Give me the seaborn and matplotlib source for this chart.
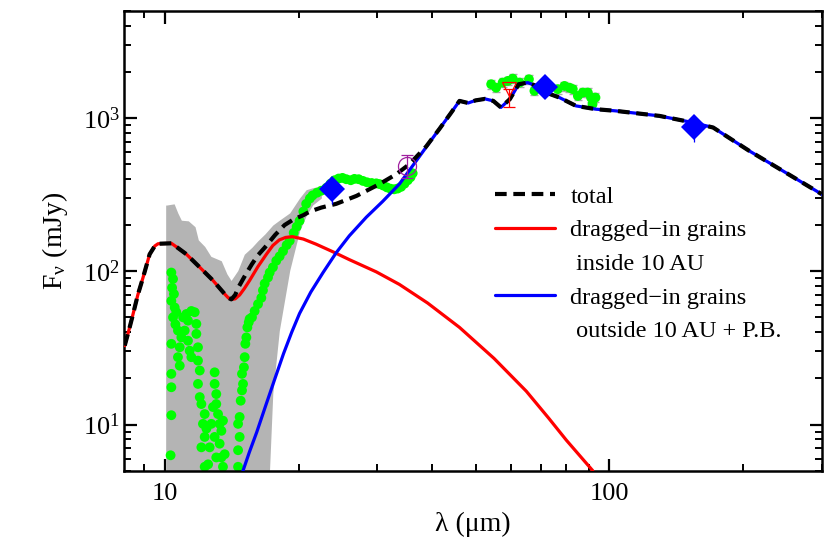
"""
SED of the debris disk: IRS spectrum, photometry and the dragged-in grain models
"""

import matplotlib
matplotlib.use("Agg")
import matplotlib.pyplot as plt
from matplotlib.lines import Line2D
from matplotlib.ticker import FixedLocator, FixedFormatter, LogLocator, LogFormatterMathtext, NullFormatter
import seaborn as sns

# ── Model curves (wavelength in um, flux in mJy) ───────────
red_wave = [8.13, 8.34, 8.49, 8.7, 8.94, 9.25, 9.5, 9.66, 10.35, 10.7, 11.19, 11.99, 12.84,
            13.64, 13.9, 14.12, 14.4, 14.74, 15.1, 15.52, 16.2, 16.93, 17.5, 18.1, 18.7,
            19.36, 20.5, 21.9, 24.0, 26.0, 29.9, 33.7, 39.0, 46.0, 55.0, 65.0, 73.0, 80.0,
            86.0, 91.7]
red_flux = [32.7, 43, 52.6, 70, 91, 129, 146, 151, 152, 142, 129, 106, 87,
            71, 67, 65.5, 66, 70, 77, 87, 107, 129, 147, 160, 166,
            168, 162, 150, 133, 119, 99, 82, 62, 43, 27, 16.5, 11, 7.9,
            6.2, 5.0]

blue_wave = [15.0, 15.5, 16.1, 16.9, 17.7, 18.5, 19.3, 20.1, 21.3, 22.7, 24.3, 26.0, 28.4,
             30.9, 33.7, 37.4, 39.7, 41.5, 44.0, 46.0, 48.1, 50.0, 52.5, 54.8, 57.0, 59.7,
             62.5, 65.5, 69.0, 72.5, 77.2, 84.1, 93.3, 103.5, 129.5, 154, 171, 206, 245, 300]
blue_flux = [5.0, 6.6, 8.9, 13.5, 20, 29, 40, 53, 73, 98, 132, 170, 225,
             285, 370, 561, 713, 851, 1075, 1290, 1250, 1300, 1330, 1290, 1170, 1324,
             1657, 1698, 1600, 1450, 1356, 1197, 1139, 1110, 1030, 932, 865, 610, 452, 318]

total_wave = [8.13, 8.34, 8.49, 8.7, 8.94, 9.25, 9.5, 9.66, 10.35, 10.7, 11.19, 11.99, 12.84,
              13.64, 13.9, 14.12, 14.4, 14.7, 15.2, 15.7, 16.2, 16.8, 17.7, 18.6, 19.5,
              20.5, 21.2, 22.5, 24.3, 27.0, 30.4, 33.2, 35.5, 38.7, 41.5, 44.0, 46.0, 48.1,
              50.0, 52.5, 54.8, 57.0, 59.7, 62.5, 65.5, 69.0, 72.5, 77.2, 84.1, 93.3, 103.5,
              129.5, 154, 171, 206, 245, 300]
total_flux = [32.7, 43, 52.6, 70, 91, 129, 146, 151, 152, 142, 129, 106, 87,
              71, 67, 65.5, 70, 80, 95, 111, 127, 143, 172, 200, 218,
              232, 245, 260, 275, 310, 370, 430, 499, 650, 850, 1075, 1290, 1250,
              1300, 1330, 1290, 1170, 1324, 1657, 1698, 1600, 1450, 1356, 1197, 1139, 1110,
              1030, 932, 865, 610, 452, 318]

# ── IRS spectrum (green) ───────────────────────────────────
irs_wave = [10.35, 10.44, 10.39, 10.49, 10.35, 10.53, 10.62, 10.44, 10.57, 10.71, 10.35, 10.81,
            10.71, 10.35, 10.81, 10.35, 10.35, 10.31,
            11.0, 11.19, 11.28, 11.48, 11.68, 11.09, 11.28, 11.38, 11.48, 10.90, 11.78, 11.78,
            11.88, 11.88, 11.99, 11.88, 11.99,
            12.09, 12.30, 12.19, 12.30, 12.41, 12.09, 12.62, 12.95, 12.95, 13.06, 13.06, 13.18,
            13.29, 13.41, 13.52, 12.84, 12.73, 12.95, 13.29, 13.64, 13.52, 12.30, 12.52, 13.06,
            13.41,
            14.62, 14.62, 14.74, 14.62, 14.74, 14.82, 14.92, 15.0, 14.92, 15.07, 15.13, 15.18,
            15.26, 15.34, 15.45, 15.52, 15.71,
            15.93, 16.21, 16.49, 16.63, 16.78, 17.07, 17.22, 17.51, 17.82, 18.13, 18.45, 18.8,
            19.1, 19.5, 19.8, 20.1, 20.5, 20.8, 21.2, 21.5, 22.0, 22.5, 23.1, 23.6, 24.1, 24.6,
            25.1, 25.6, 26.2, 26.7, 27.3, 27.9, 28.5, 29.2, 29.9, 30.4, 31.0, 31.6, 32.2, 32.8,
            33.4, 34.0, 34.6, 35.2, 35.7, 36.1]
irs_flux = [98, 89, 78, 71, 64, 58, 54, 50, 45, 41, 33.6, 31.9,
            27.5, 21.4, 24.2, 17.5, 11.5, 6.3,
            50, 52.6, 47.6, 55, 54, 41, 35.2, 30.3, 27.5, 37, 45.3, 39,
            31.9, 26.1, 22.5, 18.4, 15.1,
            13.6, 11.7, 10.1, 8.3, 9.4, 7.1, 7.1, 21.9, 18.4, 15.8, 13.6, 11.7,
            10.1, 9.1, 10.6, 13.0, 10.1, 8.3, 7.5, 6.4, 5.3, 5.3, 5.5, 6.1,
            6.1,
            5.3, 6.8, 8.3, 10.1, 11.2, 14.3, 16.7, 18.4, 21.4, 23.6, 27.5, 33.6,
            37, 43, 46.4, 48.8, 50,
            55, 61, 67, 75, 83, 91, 98, 106, 117, 125, 135, 148,
            158, 178, 195, 213, 245, 275, 298, 312, 325, 335, 350, 372, 392, 402,
            406, 398, 392, 400, 398, 388, 380, 376, 374, 370, 362, 352, 345, 342,
            346, 355, 372, 392, 410, 435]

# gray error envelope of the IRS spectrum
band_wave = [10.05, 10.1, 10.5, 10.7, 10.9, 11.3, 11.7, 11.9, 12.3, 12.7, 13.4, 13.8, 14.1,
             14.6, 15.1, 15.7, 16.2, 16.8, 17.5, 18.1, 19.1, 20.1, 20.8, 21.5, 22.5]
band_hi = [270, 270, 275, 240, 215, 213, 195, 160, 145, 125, 117, 96, 87,
           101, 129, 143, 158, 175, 200, 215, 240, 300, 340, 350, 360]
band_lo = [1, 1, 1, 1, 1, 1, 1, 1, 1, 1, 1, 1, 1,
           1, 1, 1, 1, 1, 16, 41, 101, 183, 230, 270, 300]

# ── MIPS SED points (green, 55-95 um) ──────────────────────
fir_wave = [54.2, 55.6, 57.5, 59.1, 60.6, 62.8, 65.9, 67.8, 76.5, 79.2, 81.3, 82.7, 84.9,
            87.1, 89.4, 90.9, 93.0, 91.6]
fir_flux = [1657, 1574, 1698, 1742, 1803, 1698, 1786, 1500, 1539, 1615, 1574, 1539, 1390,
            1462, 1462, 1356, 1356, 1228]
fir_err = [110, 100, 110, 110, 120, 110, 120, 100, 100, 110, 100, 100, 90,
           100, 100, 90, 90, 90]

# ── Photometry ─────────────────────────────────────────────
mips_wave = [23.8, 71.8, 155.0]
mips_flux = [343, 1600, 874]
mips_err = [70, 120, 175]

irac_wave = [35.0]
irac_flux = [486]
irac_err = [83]

iras_wave = [59.4]
iras_flux = [1539]
iras_err_lo = [370]
iras_err_hi = [0]

# ── Styling ────────────────────────────────────────────────
sns.set_theme(style="ticks")
plt.rcParams.update({
    "font.family": ["Liberation Serif", "DejaVu Serif"],
    "mathtext.fontset": "stix",
    "axes.linewidth": 1.8,
    "axes.edgecolor": "black",
    "text.color": "black",
    "axes.labelcolor": "black",
    "xtick.color": "black",
    "ytick.color": "black",
})
GRAY = "#b4b4b4"
GREEN = "#00ff00"
RED = "#ff0000"
BLUE = "#0000ff"
PURPLE = "#a020a0"
DASH = (0, (2.8, 1.6))

fig = plt.figure(figsize=(8.3, 5.54), dpi=100)
ax = fig.add_axes([0.1494, 0.1504, 0.8406, 0.8303])
ax.set_xscale("log")
ax.set_yscale("log")

ax.fill_between(band_wave, band_lo, band_hi, color=GRAY, lw=0, zorder=1)
ax.errorbar(fir_wave, fir_flux, yerr=fir_err, fmt="none", ecolor="#a8a8a8",
            elinewidth=0.9, capsize=3, zorder=1.5)
sns.scatterplot(x=irs_wave, y=irs_flux, ax=ax, color=GREEN, s=50, edgecolor="none",
                linewidth=0, zorder=2)
sns.scatterplot(x=fir_wave, y=fir_flux, ax=ax, color=GREEN, s=50, edgecolor="none",
                linewidth=0, zorder=2)

sns.lineplot(x=red_wave, y=red_flux, ax=ax, color=RED, lw=2.3, estimator=None, sort=False, zorder=3)
sns.lineplot(x=blue_wave, y=blue_flux, ax=ax, color=BLUE, lw=2.3, estimator=None, sort=False, zorder=3)
sns.lineplot(x=total_wave, y=total_flux, ax=ax, color="black", lw=3.0, estimator=None, sort=False,
             linestyle=DASH, zorder=4)

ax.errorbar(iras_wave, iras_flux, yerr=[iras_err_lo, iras_err_hi], fmt="v", mfc="none",
            mec=RED, ecolor=RED, ms=10, mew=0.9, elinewidth=0.9, capsize=4, zorder=5)
ax.errorbar(irac_wave, irac_flux, yerr=irac_err, fmt="o", mfc="none", mec=PURPLE,
            ecolor=PURPLE, ms=13, mew=0.9, elinewidth=0.9, capsize=4, zorder=5)
ax.errorbar(mips_wave, mips_flux, yerr=mips_err, fmt="D", color=BLUE, ms=13, mew=0,
            elinewidth=0.9, capsize=4, zorder=5)

ax.set_xlim(8.1, 300)
ax.set_ylim(5, 5000)

ax.xaxis.set_major_locator(FixedLocator([10, 100]))
ax.xaxis.set_major_formatter(FixedFormatter(["10", "100"]))
ax.xaxis.set_minor_locator(LogLocator(base=10, subs=[2, 3, 4, 5, 6, 7, 8, 9], numticks=20))
ax.xaxis.set_minor_formatter(NullFormatter())
ax.yaxis.set_major_locator(LogLocator(base=10, numticks=10))
ax.yaxis.set_major_formatter(LogFormatterMathtext())
ax.yaxis.set_minor_locator(LogLocator(base=10, subs=[2, 3, 4, 5, 6, 7, 8, 9], numticks=20))
ax.yaxis.set_minor_formatter(NullFormatter())

ax.tick_params(which="both", direction="in", top=True, right=True, labelsize=19)
ax.tick_params(which="major", length=9, width=1.6)
ax.tick_params(which="minor", length=5, width=1.4)
ax.tick_params(axis="x", which="major", pad=9)
ax.tick_params(axis="y", which="major", pad=3)

ax.set_xlabel("λ (μm)", fontsize=20, labelpad=5)
ax.set_ylabel(r"F$_\mathregular{\nu}$ (mJy)", fontsize=20, labelpad=9)

handles = [
    Line2D([], [], color="black", lw=3.0, linestyle=DASH),
    Line2D([], [], color=RED, lw=2.3),
    Line2D([], [], color="none"),
    Line2D([], [], color=BLUE, lw=2.3),
    Line2D([], [], color="none"),
]
labels = ["total", "dragged−in grains", " inside 10 AU", "dragged−in grains",
          " outside 10 AU + P.B."]
ax.legend(handles, labels, loc="upper left", bbox_to_anchor=(0.532, 0.62), frameon=False,
          fontsize=17.5, handlelength=2.47, handletextpad=0.62, labelspacing=0.48,
          borderpad=0, borderaxespad=0)

fig.savefig("out.png", dpi=100)
